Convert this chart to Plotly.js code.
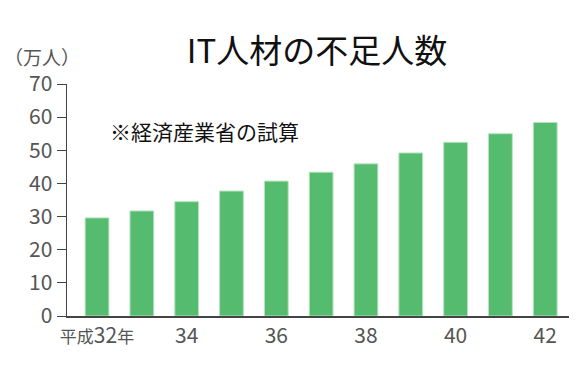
<!DOCTYPE html>
<html>
<head>
<meta charset="utf-8">
<script src="https://cdn.plot.ly/plotly-3.0.1.min.js"></script>
<style>html,body{margin:0;padding:0;background:#fff;}#chart{width:580px;height:386px;}</style>
</head>
<body>
<div id="chart"></div>
<script>
const categories = ['平成32年','33','34','35','36','37','38','39','40','41','42'];
const shortage = [29.6, 31.7, 34.5, 37.7, 40.7, 43.4, 45.9, 49.2, 52.4, 55.0, 58.4];
const tickShown = ['平成32年','34','36','38','40','42'];
const yTicks = [0,10,20,30,40,50,60,70];

const FONT = '"Noto Sans CJK JP", "Noto Sans", sans-serif';

// smaller kanji inside the first tick label, digits keep the tick font size
const tickText = tickShown.map(t => t.replace(/([^0-9]+)/g, '<span style="font-size:17px">$1</span>'));

const trace = {
  type: 'bar',
  x: categories,
  y: shortage,
  width: 0.53,
  marker: {color: '#55BB6F', line: {color: '#b5e3bf', width: 1}},
  hoverinfo: 'none'
};

const layout = {
  width: 580, height: 386,
  margin: {l: 67, r: 11, t: 84, b: 70, pad: 0},
  paper_bgcolor: '#fff', plot_bgcolor: '#fff',
  showlegend: false,
  font: {family: FONT, color: '#555'},
  title: {
    text: 'IT人材の不足人数',
    font: {family: FONT, size: 33, color: '#111'},
    x: 317/580, xanchor: 'center', xref: 'container',
    y: 1 - 51/386, yanchor: 'middle', yref: 'container'
  },
  xaxis: {
    type: 'category',
    range: [-0.67, 10.53],
    tickmode: 'array',
    tickvals: tickShown,
    ticktext: tickText,
    ticks: '',
    showline: true, linecolor: '#444', linewidth: 1.5,
    showgrid: false, zeroline: false,
    tickfont: {family: FONT, size: 21, color: '#555'},
    fixedrange: true
  },
  yaxis: {
    range: [0, 70],
    tickmode: 'array',
    tickvals: yTicks,
    ticks: 'outside', ticklen: 9, tickcolor: '#444', tickwidth: 1,
    showline: true, linecolor: '#444', linewidth: 1.5,
    showgrid: false, zeroline: false,
    tickfont: {family: FONT, size: 21, color: '#555'},
    fixedrange: true
  },
  annotations: [
    {
      text: '（万人）', xref: 'paper', yref: 'paper',
      x: (42-67)/502, y: (316-57)/232, xanchor: 'center', yanchor: 'middle',
      showarrow: false, font: {family: FONT, size: 19, color: '#555'}
    },
    {
      text: '※経済産業省の試算', xref: 'paper', yref: 'paper',
      x: (204-67)/502, y: (316-131)/232, xanchor: 'center', yanchor: 'middle',
      showarrow: false, font: {family: FONT, size: 21, color: '#111'}
    }
  ]
};

Plotly.newPlot('chart', [trace], layout, {displayModeBar: false, staticPlot: true});
</script>
</body>
</html>
